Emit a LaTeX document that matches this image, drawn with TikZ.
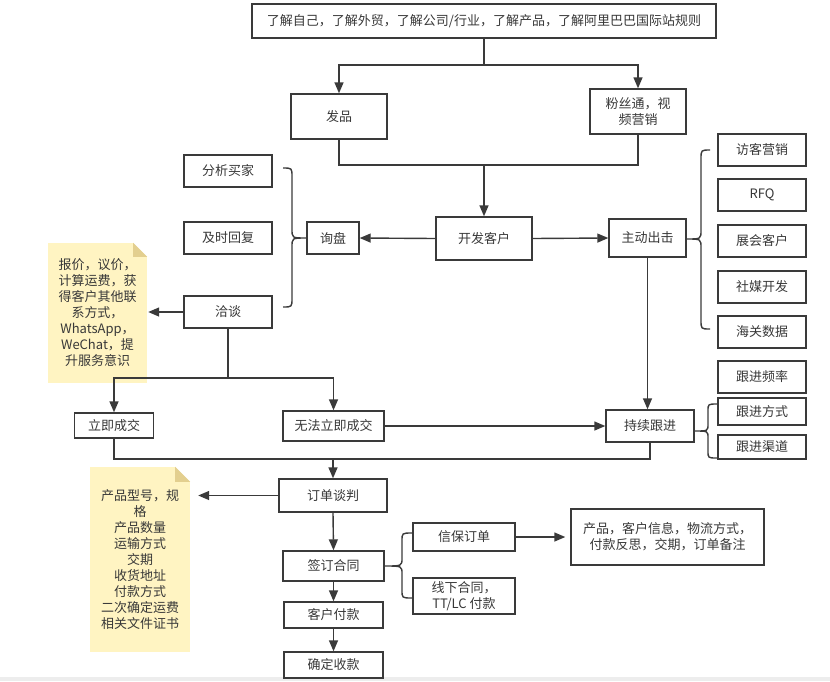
\documentclass[tikz,border=0pt]{standalone}
\usepackage{fontspec}
\newfontfamily\cjk{Noto Sans CJK SC}
\usetikzlibrary{arrows.meta}
\definecolor{linec}{HTML}{3A3A3A}
\definecolor{textc}{HTML}{383838}
\definecolor{notefill}{HTML}{FFF4C2}
\definecolor{notefold}{HTML}{E3CF8F}
\begin{document}
\begin{tikzpicture}[x=1pt,y=-1pt,
  box/.style={draw=linec, line width=1.4pt, fill=white, text=textc,
    font=\cjk\fontsize{13}{16}\selectfont, align=center, inner sep=0pt},
  notebox/.style={fill=notefill, text=textc,
    font=\cjk\fontsize{13}{16}\selectfont, align=center, inner sep=0pt},
  ln/.style={draw=linec, line width=1.4pt},
  arr/.style={draw=linec, line width=1.4pt, -{Triangle[length=11pt,width=9pt]}},
  brc/.style={draw=linec, line width=1.4pt}
]
\useasboundingbox (0,0) rectangle (830,681);
\fill[black!7] (0,677) rectangle (830,681);

% top part
\node[box, minimum width=464pt, minimum height=34pt] (top) at (484,21)
  {了解自己，了解外贸，了解公司/行业，了解产品，了解阿里巴巴国际站规则};
\node[box, minimum width=96pt, minimum height=45pt] (fapin) at (339,116.5) {发品};
\node[box, minimum width=96pt, minimum height=45pt] (fensi) at (638,111.5) {粉丝通，视\\频营销};
\node[box, minimum width=96pt, minimum height=43pt] (kaifa) at (484,238.5) {开发客户};
\node[box, minimum width=52pt, minimum height=32pt] (xunpan) at (333,238) {询盘};
\node[box, minimum width=77pt, minimum height=38pt] (zhudong) at (647.5,238) {主动出击};

% left column
\node[box, minimum width=88pt, minimum height=32pt] (fenxi) at (228,171) {分析买家};
\node[box, minimum width=88pt, minimum height=32pt] (jishi) at (228,238) {及时回复};
\node[box, minimum width=88pt, minimum height=32pt] (qiatan) at (228,312) {洽谈};

% right column
\node[box, minimum width=88pt, minimum height=32pt] (fangke) at (762,150) {访客营销};
\node[box, minimum width=88pt, minimum height=32pt] (rfq) at (762,195) {RFQ};
\node[box, minimum width=88pt, minimum height=32pt] (zhanhui) at (762,241) {展会客户};
\node[box, minimum width=88pt, minimum height=32pt] (shemei) at (762,287) {社媒开发};
\node[box, minimum width=88pt, minimum height=32pt] (haiguan) at (762,332) {海关数据};

% follow-up
\node[box, minimum width=88pt, minimum height=32pt] (pinlv) at (762,377) {跟进频率};
\node[box, minimum width=88pt, minimum height=27pt] (fangshi) at (762,411.5) {跟进方式};
\node[box, minimum width=88pt, minimum height=24pt] (qudao) at (762,447) {跟进渠道};

\node[box, minimum width=79pt, minimum height=25pt] (liji) at (114,425.5) {立即成交};
\node[box, minimum width=101pt, minimum height=30pt] (wufa) at (333.5,426) {无法立即成交};
\node[box, minimum width=88pt, minimum height=32pt] (chixu) at (650,426) {持续跟进};

% bottom part
\node[box, minimum width=108pt, minimum height=33pt] (dingdan) at (333,495.5) {订单谈判};
\node[box, minimum width=101pt, minimum height=30pt] (qianding) at (333.5,566) {签订合同};
\node[box, minimum width=99pt, minimum height=26pt] (fukuan) at (333.5,615) {客户付款};
\node[box, minimum width=99pt, minimum height=26pt] (queding) at (333.5,665) {确定收款};
\node[box, minimum width=102pt, minimum height=28pt] (xinbao) at (464,537) {信保订单};
\node[box, minimum width=102pt, minimum height=36pt] (xianxia) at (464,596) {线下合同，\\TT/LC 付款};
\node[box, minimum width=193pt, minimum height=56pt] (detail) at (667.5,537)
  {产品，客户信息，物流方式，\\付款反思，交期，订单备注};

% notes
\node[notebox, minimum width=99pt, minimum height=140pt] (notea) at (97.5,313)
  {报价，议价，\\计算运费，获\\得客户其他联\\系方式，\\WhatsApp，\\WeChat，提\\升服务意识};
\fill[white] ([xshift=-14pt]notea.north east) -- (notea.north east) -- ([yshift=-14pt]notea.north east) -- cycle;
\fill[notefold] ([xshift=-14pt]notea.north east) -- ([xshift=-14pt,yshift=-14pt]notea.north east) -- ([yshift=-14pt]notea.north east) -- cycle;

\node[notebox, minimum width=100pt, minimum height=185pt] (noteb) at (140,559.5)
  {产品型号，规\\格\\产品数量\\运输方式\\交期\\收货地址\\付款方式\\二次确定运费\\相关文件证书};
\fill[white] ([xshift=-15pt]noteb.north east) -- (noteb.north east) -- ([yshift=-15pt]noteb.north east) -- cycle;
\fill[notefold] ([xshift=-15pt]noteb.north east) -- ([xshift=-15pt,yshift=-15pt]noteb.north east) -- ([yshift=-15pt]noteb.north east) -- cycle;

% junctions
\coordinate (j0) at (484,65);
\coordinate (j1) at (484,165);
\coordinate (j2) at (228,378);
\coordinate (j3) at (333,459);

% connectors
\draw[arr] (top.south) -- (j0) -| (fapin.north);
\draw[arr] (j0) -| (fensi.north);
\draw[ln] (fapin.south) |- (j1);
\draw[ln] (fensi.south) |- (j1);
\draw[arr] (j1) -- (kaifa.north);
\draw[arr] (kaifa.west) -- (xunpan.east);
\draw[arr] (kaifa.east) -- (zhudong.west);
\draw[arr] (zhudong.south) -- (zhudong.south |- chixu.north);
\draw[arr] (qiatan.west) -- ([xshift=1pt]notea.east |- qiatan.west);
\draw[ln] (qiatan.south) -- (j2);
\draw[arr] (j2) -| (liji.north);
\draw[arr] (j2) -| (wufa.north);
\draw[arr] (wufa.east) -- (chixu.west);
\draw[ln] (liji.south) |- (j3);
\draw[ln] (chixu.south) |- (j3);
\draw[arr] (j3) -- (dingdan.north);
\draw[arr] (dingdan.west) -- ([xshift=8pt]noteb.east |- dingdan.west);
\draw[arr] (dingdan.south) -- (qianding.north);
\draw[arr] (qianding.south) -- (fukuan.north);
\draw[arr] (fukuan.south) -- (queding.north);
\draw[arr, shorten >=5pt] (xinbao.east) -- (detail.west);

% braces
\draw[brc] (283,168) .. controls (292,168) .. (292,177) -- (292,229)
  .. controls (292,238) .. (306,238) .. controls (292,238) .. (292,247)
  -- (292,298) .. controls (292,307) .. (283,307);
\draw[brc] (710,150) .. controls (701,150) .. (701,159) -- (701,230)
  .. controls (701,239) .. (687,239) .. controls (701,239) .. (701,248)
  -- (701,320) .. controls (701,329) .. (710,329);
\draw[brc] (717,404) .. controls (708,404) .. (708,411) -- (708,424)
  .. controls (708,431) .. (695,431) .. controls (708,431) .. (708,438)
  -- (708,451) .. controls (708,458) .. (717,458);
\draw[brc] (412,533) .. controls (402,533) .. (402,541) -- (402,558)
  .. controls (402,566) .. (385,566) .. controls (402,566) .. (402,574)
  -- (402,590) .. controls (402,598) .. (412,598);
\end{tikzpicture}
\end{document}
